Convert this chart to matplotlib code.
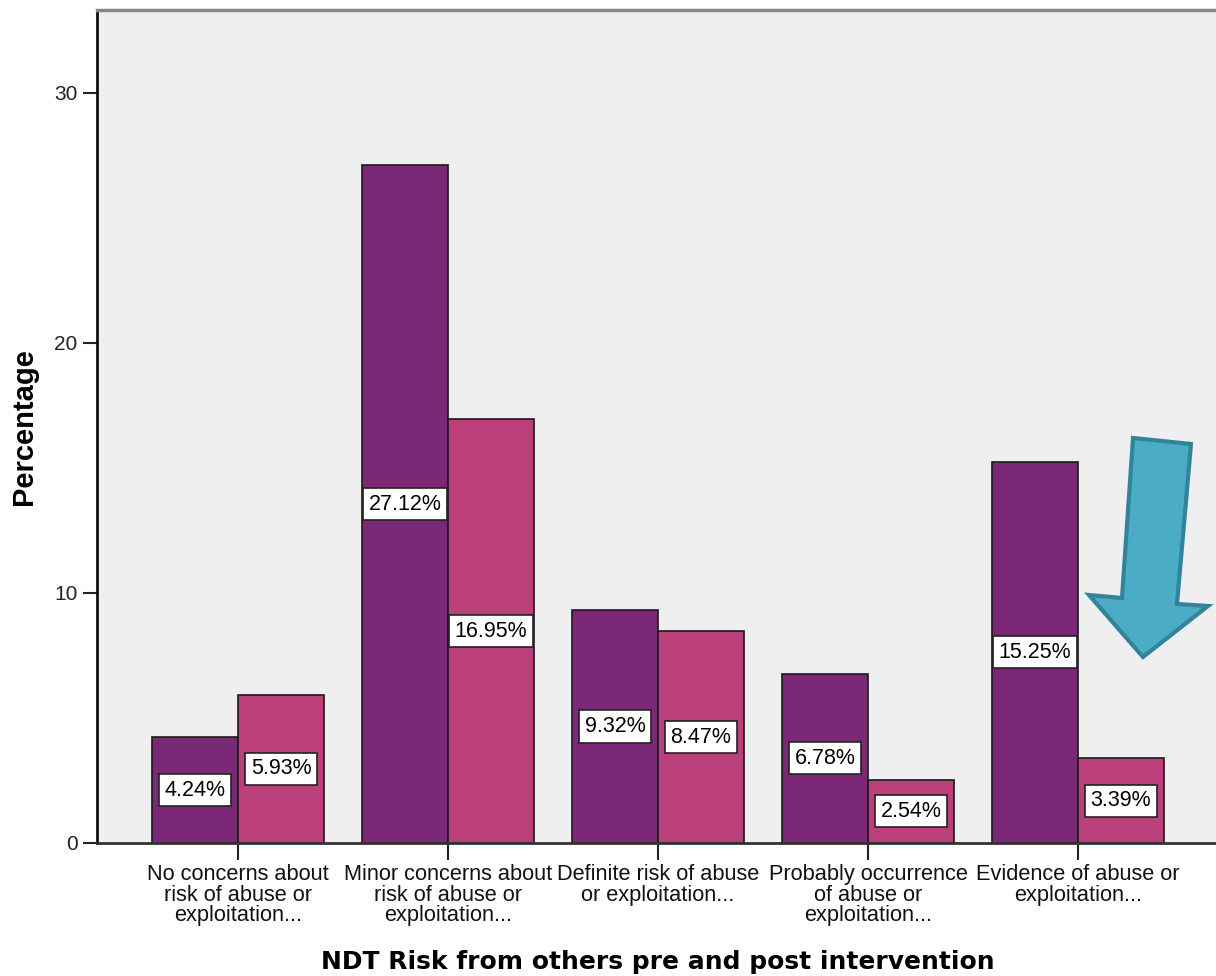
import matplotlib
matplotlib.use("Agg")
import matplotlib.pyplot as plt
from matplotlib.patches import Polygon
import numpy as np

categories = [
    "No concerns about\nrisk of abuse or\nexploitation...",
    "Minor concerns about\nrisk of abuse or\nexploitation...",
    "Definite risk of abuse\nor exploitation...",
    "Probably occurrence\nof abuse or\nexploitation...",
    "Evidence of abuse or\nexploitation...",
]
pre_values = [4.24, 27.12, 9.32, 6.78, 15.25]
post_values = [5.93, 16.95, 8.47, 2.54, 3.39]
yticks = [0, 10, 20, 30]

W, H = 1216, 976
fig = plt.figure(figsize=(W / 100, H / 100), dpi=100)
fig.patch.set_facecolor("white")
ax = fig.add_axes([97 / W, (H - 843) / H, (1219 - 97) / W, (843 - 10) / H])
ax.set_facecolor("#EFEFEF")

x = np.arange(len(categories))
bw = 86 / 210
c_pre = "#7B2877"
c_post = "#BA3F7B"
ax.bar(x - bw / 2, pre_values, bw, color=c_pre, edgecolor="#1a1a1a", linewidth=1.2, zorder=2)
ax.bar(x + bw / 2, post_values, bw, color=c_post, edgecolor="#1a1a1a", linewidth=1.2, zorder=2)

for xs, vals in ((x - bw / 2, pre_values), (x + bw / 2, post_values)):
    for xi, v in zip(xs, vals):
        ax.text(xi, v / 2, f"{v:.2f}%", ha="center", va="center", fontsize=15.5,
                family="Liberation Sans", zorder=3,
                bbox=dict(boxstyle="square,pad=0.26", facecolor="white", edgecolor="#222222", linewidth=1.2))

ax.set_xlim(-141 / 210, 4 + 141 / 210)
ax.set_ylim(0, 833 / 25)
ax.set_yticks(yticks)
ax.set_yticklabels([str(t) for t in yticks], fontsize=15, family="Liberation Sans", color="#222222")
ax.set_xticks(x)
ax.set_xticklabels(categories, fontsize=15.7, family="Liberation Sans", linespacing=0.98, color="#111111")
ax.tick_params(axis="y", length=10, width=1.5, color="#222222", pad=4)
ax.tick_params(axis="x", length=12, width=1.5, color="#222222", pad=3)

ax.spines["left"].set_color("#111111")
ax.spines["left"].set_linewidth(2)
ax.spines["bottom"].set_color("#333333")
ax.spines["bottom"].set_linewidth(2)
ax.spines["top"].set_color("#888888")
ax.spines["top"].set_linewidth(2.5)
ax.spines["right"].set_visible(False)

ax.set_ylabel("Percentage", fontsize=21, fontweight="bold", family="Liberation Sans", labelpad=12)
ax.set_xlabel("NDT Risk from others pre and post intervention", fontsize=18, fontweight="bold",
              family="DejaVu Sans", labelpad=17)

# annotation arrow (blue) pointing at the reduced post-intervention bar
arrow_px = [(1133, 438), (1191, 444), (1177, 604), (1208, 606), (1143, 657), (1089, 595), (1122, 598)]
arrow_pts = [(px / W, 1 - py / H) for px, py in arrow_px]
fig.patches.append(Polygon(arrow_pts, closed=True, transform=fig.transFigure,
                           facecolor="#4BACC6", edgecolor="#31849B", linewidth=3, zorder=10))

fig.savefig("out.png", dpi=100)
